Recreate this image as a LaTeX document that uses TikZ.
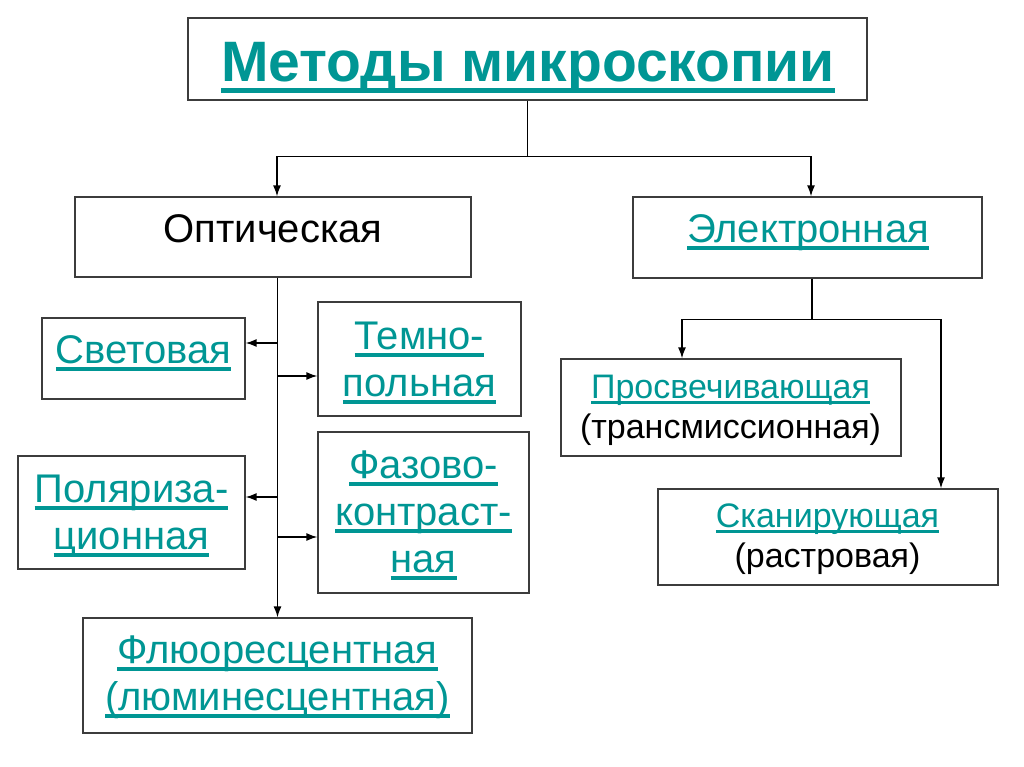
\documentclass[tikz,border=0pt]{standalone}
\usepackage{fontspec}
\setmainfont{Liberation Sans}
\usetikzlibrary{arrows.meta}
\definecolor{linkteal}{RGB}{0,150,148}
\definecolor{boxgray}{RGB}{60,60,60}
% underlined link text
\newcommand\ulnk[1]{\sbox0{#1}\rlap{\rule[-.19em]{\wd0}{.09em}}\usebox0}
\begin{document}
\begin{tikzpicture}[x=1pt, y=-1pt,
    box/.style={rectangle, draw=boxgray, line width=1.3pt, inner sep=0pt},
    lbl/.style={inner sep=0pt, anchor=base, align=center, font=\fontsize{40}{47}\selectfont},
    link/.style={lbl, text=linkteal},
    small/.style={inner sep=0pt, anchor=base, align=center, font=\fontsize{34}{40}\selectfont},
    arr/.style={-{Latex[length=11pt,width=8pt]}, line width=1.4pt}
  ]
  \useasboundingbox (0,0) rectangle (1024,767);
  % boxes
  \node[box, minimum width=679pt, minimum height=82pt] (head) at (527.5,59) {};
  \node[box, minimum width=396pt, minimum height=80pt] (opt) at (273,237) {};
  \node[box, minimum width=349pt, minimum height=81pt] (el) at (807.5,237.5) {};
  \node[box, minimum width=203pt, minimum height=81pt] (svet) at (143.5,358.5) {};
  \node[box, minimum width=203pt, minimum height=114pt] (temn) at (419.5,359) {};
  \node[box, minimum width=227pt, minimum height=113pt] (pol) at (131.5,512.5) {};
  \node[box, minimum width=211pt, minimum height=161pt] (faz) at (423.5,512.5) {};
  \node[box, minimum width=389pt, minimum height=115pt] (flu) at (277.5,675.5) {};
  \node[box, minimum width=340pt, minimum height=97pt] (pros) at (731,407.5) {};
  \node[box, minimum width=340pt, minimum height=96pt] (skan) at (828,537) {};
  % texts (base = last line)
  \node[link, font=\bfseries\fontsize{57}{60}\selectfont] (head-t) at (528,82) {\ulnk{Методы микроскопии}};
  \node[lbl] (opt-t) at (273,242) {Оптическая};
  \node[link] (el-t) at (808,242) {\ulnk{Электронная}};
  \node[link] (svet-t) at (143.5,363) {\ulnk{Световая}};
  \node[link] (temn-t) at (419.5,396) {\ulnk{Темно-}\\\ulnk{польная}};
  \node[link] (pol-t) at (131.5,549) {\ulnk{Поляриза-}\\\ulnk{ционная}};
  \node[link] (faz-t) at (423.5,572) {\ulnk{Фазово-}\\\ulnk{контраст-}\\\ulnk{ная}};
  \node[link] (flu-t) at (277.5,710) {\ulnk{Флюоресцентная}\\\ulnk{(люминесцентная)}};
  \node[small] (pros-t) at (730.5,438) {\textcolor{linkteal}{\ulnk{Просвечивающая}}\\(трансмиссионная)};
  \node[small] (skan-t) at (827.5,567) {\textcolor{linkteal}{\ulnk{Сканирующая}}\\(растровая)};
  % connectors
  \draw[line width=1.4pt] (head.south) -- ++(0,56) coordinate (split);
  \draw[arr] (split) -| ([xshift=4pt]opt.north);
  \draw[arr] (split) -| ([xshift=3.5pt]el.north);
  \draw[arr] (opt.south -| flu.north) -- (flu.north);
  \draw[arr] ([yshift=15.5pt]svet.east -| flu.north) -- ([yshift=15.5pt]svet.east);
  \draw[arr] ([yshift=-17pt]temn.west -| flu.north) -- ([yshift=-17pt]temn.west);
  \draw[arr] ([yshift=15.5pt]pol.east -| flu.north) -- ([yshift=15.5pt]pol.east);
  \draw[arr] ([yshift=-24.5pt]faz.west -| flu.north) -- ([yshift=-24.5pt]faz.west);
  \draw[line width=1.4pt] ([xshift=4.5pt]el.south) -- ++(0,41) coordinate (esplit);
  \draw[arr] (esplit) -| ([xshift=-49pt]pros.north);
  \draw[arr] (esplit) -| ([xshift=113pt]skan.north);
\end{tikzpicture}
\end{document}
